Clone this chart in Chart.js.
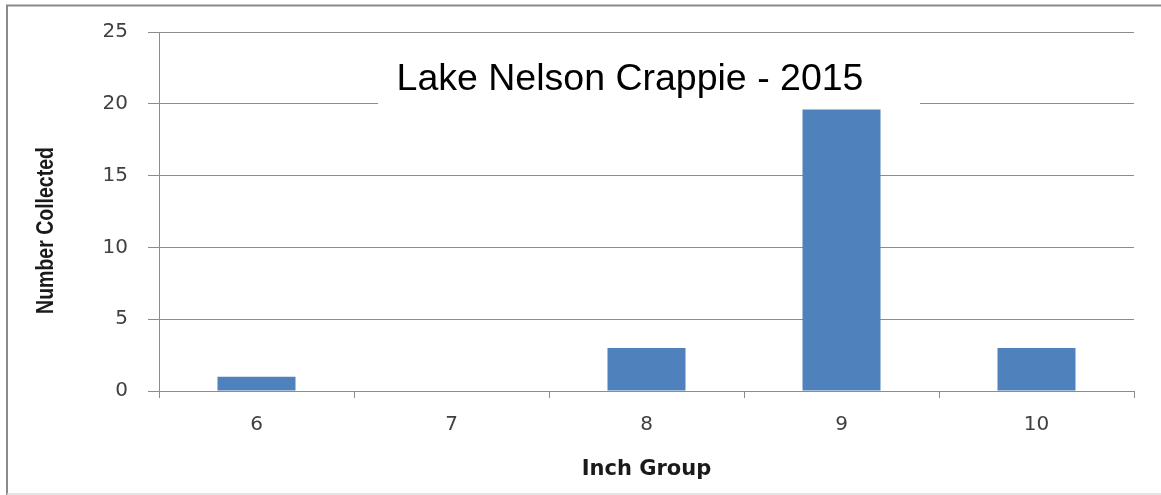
<!DOCTYPE html>
<html>
<head>
<meta charset="utf-8">
<title>Lake Nelson Crappie - 2015</title>
<script src="https://cdn.jsdelivr.net/npm/chart.js@4.4.1/dist/chart.umd.min.js"></script>
<style>
  html, body { margin: 0; padding: 0; background: #ffffff; }
  #wrap { width: 1161px; height: 495px; position: relative; }
  canvas { display: block; }
</style>
</head>
<body>
<div id="wrap"><canvas id="chart" width="1161" height="495"></canvas></div>
<script>
// Length-frequency of crappie collected, by inch group
const inchGroups = ['6', '7', '8', '9', '10'];
const crappieCounts = [1, 0, 3, 19.6, 3];
const countTicks = [0, 5, 10, 15, 20, 25];

const chartTitle = 'Lake Nelson Crappie - 2015';
const yAxisTitle = 'Number Collected';
const xAxisTitle = 'Inch Group';

const axisGray = '#8c8c8c';
const tickGray = '#404040';
const barBlue = '#4f81bd';

// Outer frame, the boxed title over the plot and the rotated y-axis title
const decorations = {
  id: 'decorations',
  beforeDraw(chart) {
    const ctx = chart.ctx;
    ctx.save();
    ctx.fillStyle = '#ffffff';
    ctx.fillRect(0, 0, chart.width, chart.height);
    ctx.strokeStyle = '#8a8a8a';
    ctx.lineWidth = 2;
    ctx.beginPath();
    ctx.moveTo(7, chart.height);
    ctx.lineTo(7, 5.5);
    ctx.lineTo(chart.width, 5.5);
    ctx.stroke();
    ctx.strokeStyle = '#dcdcdc';
    ctx.lineWidth = 1.5;
    ctx.beginPath();
    ctx.moveTo(7, 494);
    ctx.lineTo(chart.width, 494);
    ctx.stroke();
    ctx.restore();
  },
  beforeDatasetsDraw(chart) {
    const ctx = chart.ctx;
    ctx.save();
    // title sits in a white box that interrupts the gridline
    ctx.fillStyle = '#ffffff';
    ctx.fillRect(378, 48, 542, 58);
    ctx.fillStyle = '#000000';
    ctx.font = '37.5px "Liberation Sans", Arial, sans-serif';
    ctx.textAlign = 'center';
    ctx.textBaseline = 'alphabetic';
    ctx.fillText(chartTitle, 630, 90);
    ctx.restore();

    ctx.save();
    ctx.translate(52.5, 230.5);
    ctx.rotate(-Math.PI / 2);
    ctx.scale(0.83, 1);
    ctx.font = 'bold 23.5px "Liberation Sans", Arial, sans-serif';
    ctx.fillStyle = '#1a1a1a';
    ctx.textAlign = 'center';
    ctx.textBaseline = 'alphabetic';
    ctx.fillText(yAxisTitle, 0, 0);
    ctx.restore();
  }
};

new Chart(document.getElementById('chart'), {
  type: 'bar',
  data: {
    labels: inchGroups,
    datasets: [{
      data: crappieCounts,
      backgroundColor: barBlue,
      borderWidth: 0,
      barPercentage: 0.4,
      categoryPercentage: 1.0
    }]
  },
  options: {
    responsive: false,
    animation: false,
    devicePixelRatio: 1,
    layout: { padding: { left: 0, right: 27, top: 31, bottom: 0 } },
    plugins: {
      legend: { display: false },
      tooltip: { enabled: false },
      title: { display: false }
    },
    scales: {
      x: {
        offset: true,
        grid: {
          offset: true,
          drawOnChartArea: false,
          drawTicks: true,
          tickLength: 7,
          color: axisGray,
          lineWidth: 1
        },
        border: { display: true, color: axisGray, width: 1 },
        ticks: {
          color: tickGray,
          padding: 15,
          maxRotation: 0,
          font: { family: '"DejaVu Sans", sans-serif', size: 20 }
        },
        title: {
          display: true,
          text: xAxisTitle,
          color: '#1a1a1a',
          font: { family: '"DejaVu Sans", sans-serif', weight: 'bold', size: 21 },
          padding: { top: 0, bottom: 12.5 }
        },
        afterFit(scale) { scale.height = 104; }
      },
      y: {
        min: countTicks[0],
        max: countTicks[countTicks.length - 1],
        afterBuildTicks(scale) { scale.ticks = countTicks.map(v => ({ value: v })); },
        grid: {
          color: axisGray,
          lineWidth: 1,
          drawTicks: true,
          tickLength: 11
        },
        border: { display: true, color: axisGray, width: 1 },
        ticks: {
          color: tickGray,
          padding: 20,
          font: { family: '"DejaVu Sans", sans-serif', size: 20 }
        },
        afterFit(scale) { scale.width = 159; }
      }
    }
  },
  plugins: [decorations]
});
</script>
</body>
</html>
